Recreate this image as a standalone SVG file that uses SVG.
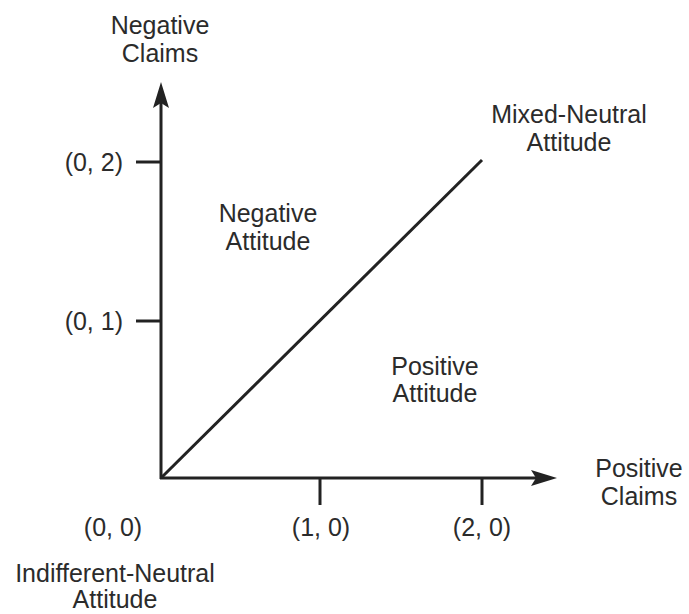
<svg xmlns="http://www.w3.org/2000/svg" width="689" height="614" viewBox="0 0 689 614">
<style>
text{font-family:"Liberation Sans",Arial,sans-serif;font-size:25px;fill:#2b2b2b;text-anchor:middle}
.ln{stroke:#222;stroke-width:3;fill:none}
.ah{fill:#222}
</style>
<rect width="689" height="614" fill="#fff"/>
<g id="connectors">
<line class="ln" x1="161" y1="479" x2="161" y2="100"/>
<line class="ln" x1="160" y1="478" x2="540" y2="478"/>
<path class="ah" d="M161,82 L169,108 L161,103 L153,108 Z"/>
<path class="ah" d="M557,478 L531,470 L536,478 L531,486 Z"/>
<line class="ln" x1="136" y1="162" x2="161" y2="162"/>
<line class="ln" x1="136" y1="321" x2="161" y2="321"/>
<line class="ln" x1="320" y1="478" x2="320" y2="505"/>
<line class="ln" x1="482" y1="478" x2="482" y2="505"/>
<line class="ln" x1="161" y1="478" x2="482" y2="160"/>
</g>
<g id="y-axis-label"><text x="160" y="34">Negative</text><text x="160" y="62">Claims</text></g>
<g id="x-axis-label"><text x="639" y="477">Positive</text><text x="639" y="505">Claims</text></g>
<g id="tick-0-2"><text x="123" y="171" style="text-anchor:end">(0, 2)</text></g>
<g id="tick-0-1"><text x="123" y="330" style="text-anchor:end">(0, 1)</text></g>
<g id="tick-0-0"><text x="113" y="536">(0, 0)</text></g>
<g id="tick-1-0"><text x="321" y="536">(1, 0)</text></g>
<g id="tick-2-0"><text x="482" y="536">(2, 0)</text></g>
<g id="negative-attitude"><text x="268" y="222">Negative</text><text x="268" y="250">Attitude</text></g>
<g id="positive-attitude"><text x="435" y="375">Positive</text><text x="435" y="402">Attitude</text></g>
<g id="mixed-neutral"><text x="569" y="123">Mixed-Neutral</text><text x="569" y="151">Attitude</text></g>
<g id="indifferent-neutral"><text x="115" y="582">Indifferent-Neutral</text><text x="115" y="608">Attitude</text></g>
</svg>
